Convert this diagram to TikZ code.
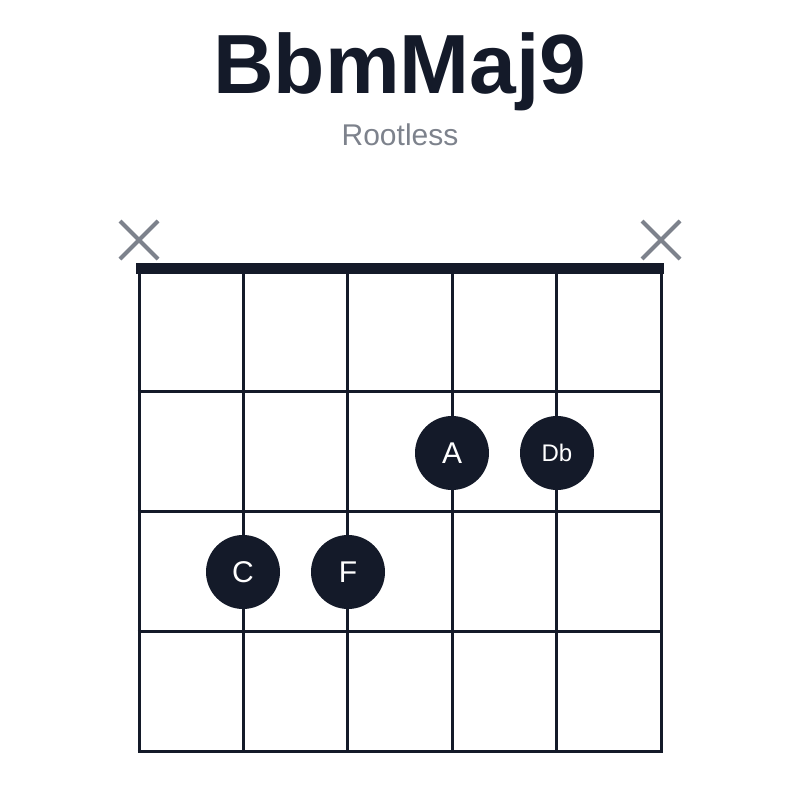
\documentclass[tikz,border=0pt]{standalone}
\usepackage{fontspec}
\setmainfont{Liberation Sans}
\definecolor{ink}{HTML}{141A29}
\definecolor{mute}{HTML}{7D828C}
\begin{document}
\begin{tikzpicture}[x=1pt,y=-1pt,
	dot/.style={circle,fill=ink,minimum size=74pt,inner sep=0pt,text=white,font=\fontsize{30}{30}\selectfont},
	cross/.style={mute,line width=4pt}]
	\useasboundingbox (0,0) rectangle (800,800);
	%\draw[help lines] (0,0) grid (800,800);
	\node[font=\bfseries\fontsize{84}{84}\selectfont,text=ink] (title) at (400,72) {BbmMaj9};
	\node[font=\fontsize{30}{30}\selectfont,text=mute] (sub) at (400,135) {Rootless};

	% strings
	\foreach \i in {0,...,5}
		\draw[ink,line width=3pt] (139+104.4*\i,267) -- (139+104.4*\i,751);
	% frets
	\foreach \j in {1,...,4}
		\draw[ink,line width=3pt] (137.5,271+120*\j) -- (662.5,271+120*\j);
	\draw[ink,line width=11pt] (136,268) -- (664,268);

	% muted strings
	\foreach \x in {139,661}
		\draw[cross] (\x-19,221) -- (\x+19,259) (\x-19,259) -- (\x+19,221);

	\node[dot] (a) at (452,453) {A};
	\node[dot,font=\fontsize{24}{24}\selectfont] (db) at (557,453) {Db};
	\node[dot] (c) at (243,572) {C};
	\node[dot] (f) at (348,572) {F};
\end{tikzpicture}
\end{document}
